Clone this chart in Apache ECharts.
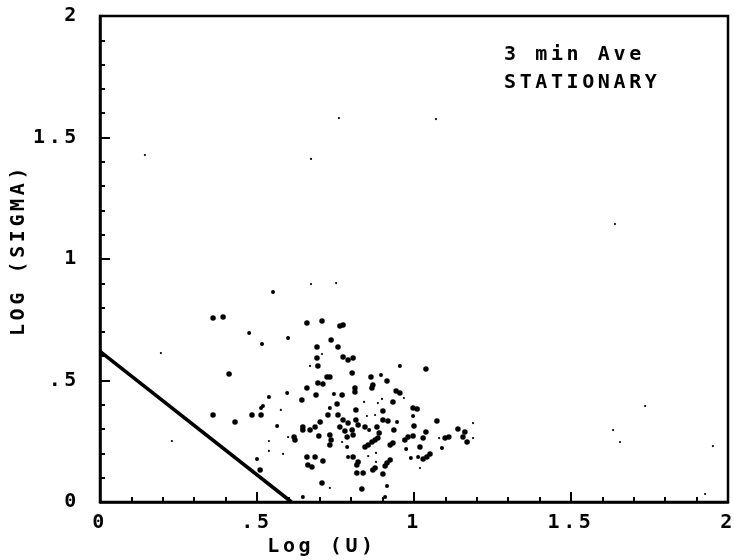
<!DOCTYPE html>
<html>
<head>
<meta charset="utf-8">
<script src="https://cdn.jsdelivr.net/npm/echarts@6/dist/echarts.min.js"></script>
<style>
  html, body { margin: 0; padding: 0; background: #fff; }
  #chart { width: 734px; height: 560px; }
</style>
</head>
<body>
<div id="chart"></div>
<script>
// Plotter-style wide character spacing for the monospace labels (canvas letterSpacing)
(function () {
  var P = window.CanvasRenderingContext2D && CanvasRenderingContext2D.prototype;
  if (!P || !('letterSpacing' in P)) return;
  var ft = P.fillText, mt = P.measureText;
  function apply(ctx) { ctx.letterSpacing = /DejaVu Sans Mono/.test(ctx.font) ? '3.6px' : '0px'; }
  P.fillText = function () { apply(this); return ft.apply(this, arguments); };
  P.measureText = function () { apply(this); return mt.apply(this, arguments); };
})();

// Axis ticks
var xTicks = [0, 0.5, 1, 1.5, 2];
var yTicks = [0, 0.5, 1, 1.5, 2];

// Boundary line: Log(SIGMA) vs Log(U)
var boundaryLine = [[0, 0.62], [0.61, 0]];

// Large dots [Log(U), Log(SIGMA)]
var bigDots = [
  [0.360,0.757],[0.392,0.761],[0.659,0.737],[0.707,0.745],[0.764,0.724],[0.774,0.728],
  [0.736,0.667],[0.691,0.638],[0.758,0.638],[0.691,0.593],[0.774,0.597],[0.790,0.584],
  [0.694,0.560],[0.411,0.527],[0.723,0.514],[0.732,0.514],[0.694,0.490],[0.710,0.486],
  [0.659,0.469],[0.688,0.440],[0.771,0.440],[0.643,0.420],[0.755,0.403],[0.360,0.358],
  [0.484,0.358],[0.513,0.358],[0.726,0.358],[0.758,0.358],[0.774,0.337],[0.790,0.325],
  [0.764,0.309],[0.787,0.267],[0.780,0.292],[0.430,0.329],[0.701,0.329],[0.685,0.309],
  [0.669,0.296],[0.646,0.309],[0.646,0.296],[0.618,0.267],[0.621,0.255],[0.697,0.272],
  [0.732,0.276],[0.736,0.255],[0.732,0.235],[0.659,0.185],[0.685,0.185],[0.710,0.169],
  [0.662,0.152],[0.675,0.144],[0.510,0.132],[0.707,0.078],
  [0.806,0.593],[1.038,0.547],[0.803,0.531],[0.863,0.514],[0.914,0.498],[0.869,0.481],
  [0.866,0.469],[0.812,0.469],[0.812,0.453],[0.943,0.457],[0.955,0.449],[0.933,0.412],
  [0.997,0.387],[1.010,0.383],[0.815,0.379],[0.901,0.374],[0.901,0.337],[0.917,0.333],
  [1.073,0.333],[0.815,0.337],[0.822,0.317],[0.803,0.296],[0.806,0.276],[0.844,0.309],
  [0.882,0.309],[0.889,0.284],[0.885,0.263],[0.936,0.296],[1.000,0.313],[0.981,0.267],
  [0.997,0.272],[0.971,0.255],[1.038,0.288],[1.029,0.263],[1.140,0.300],[1.162,0.288],
  [1.156,0.267],[1.169,0.247],[1.099,0.263],[1.111,0.267],[0.854,0.235],[0.844,0.226],
  [0.876,0.255],[0.866,0.247],[0.924,0.235],[0.933,0.243],[1.019,0.226],[0.806,0.185],
  [1.051,0.198],[1.041,0.185],[1.029,0.177],[0.924,0.173],[0.914,0.160],[0.908,0.148],
  [0.822,0.165],[0.818,0.152],[0.876,0.140],[0.869,0.132],[0.818,0.119],[0.838,0.119],
  [0.901,0.115],[0.834,0.053]
];

// Medium dots
var midDots = [
  [0.551,0.864],[0.475,0.695],[0.599,0.675],[0.516,0.650],[0.596,0.449],[0.745,0.444],
  [0.538,0.432],[0.519,0.395],[0.513,0.387],[0.732,0.387],[0.564,0.313],[0.787,0.226],
  [0.790,0.185],[0.500,0.177],[0.646,0.021],
  [0.955,0.560],[0.895,0.523],[0.997,0.354],[0.946,0.329],[0.857,0.296],[0.975,0.218],
  [1.089,0.222],[0.990,0.181],[1.013,0.185],[0.914,0.066],[0.908,0.021]
];

// Tiny dots
var tinyDots = [
  [0.761,1.580],[1.070,1.576],[0.143,1.428],[0.672,1.412],[1.640,1.144],[0.672,0.897],
  [0.752,0.901],[0.194,0.613],[0.229,0.251],[1.634,0.296],[1.656,0.247],[1.736,0.395],
  [1.952,0.230],[1.927,0.033],
  [0.707,0.609],[0.669,0.560],[0.576,0.379],[0.599,0.267],[0.538,0.251],[0.771,0.247],
  [0.538,0.210],[0.583,0.198],[0.732,0.058],
  [0.968,0.428],[0.898,0.424],[0.841,0.412],[0.885,0.407],[0.850,0.354],[0.876,0.358],
  [1.188,0.325],[1.188,0.263],[1.080,0.263],[0.879,0.202],[0.854,0.189],[0.879,0.165],
  [1.019,0.140]
];

var titleLines = ['3 min Ave', 'STATIONARY'];
var xName = 'Log (U)';
var yName = 'LOG (SIGMA)';

var FONT = 'DejaVu Sans Mono';
function fmt(v) {
  if (v === 0) return '0';
  var s = String(v);
  return s.charAt(0) === '0' ? s.slice(1) : s;
}

var tickStyle = { color: '#000000', width: 2, type: 'solid', opacity: 1 };

var chart = echarts.init(document.getElementById('chart'), null, { renderer: 'canvas' });
chart.setOption({
  backgroundColor: '#ffffff',
  animation: false,
  grid: {
    left: 100, right: 6, top: 16, bottom: 58, containLabel: false, outerBoundsMode: 'none',
    show: true, borderColor: '#000', borderWidth: 2.5
  },
  xAxis: {
    type: 'value', min: xTicks[0], max: xTicks[xTicks.length - 1], interval: 0.5,
    name: xName, nameLocation: 'middle', nameGap: 33, nameMoveOverlap: false,
    nameTextStyle: { fontFamily: FONT, fontSize: 20, fontWeight: 'bold', color: '#000', padding: [0, 184, 0, 0] },
    axisLine: { show: true, onZero: false, lineStyle: { color: '#000', width: 2.5 } },
    axisTick: { show: true, inside: true, length: 10, lineStyle: tickStyle },
    minorTick: { show: true, splitNumber: 5, length: 5, lineStyle: tickStyle },
    splitLine: { show: false },
    minorSplitLine: { show: false },
    axisLabel: { formatter: fmt, margin: 9, fontFamily: FONT, fontSize: 20, fontWeight: 'bold', color: '#000' }
  },
  yAxis: {
    type: 'value', min: yTicks[0], max: yTicks[yTicks.length - 1], interval: 0.5,
    name: yName, nameLocation: 'middle', nameGap: 69, nameMoveOverlap: false,
    nameTextStyle: { fontFamily: FONT, fontSize: 20, fontWeight: 'bold', color: '#000', padding: [0, 0, 0, 18] },
    axisLine: { show: true, onZero: false, lineStyle: { color: '#000', width: 2.5 } },
    axisTick: { show: true, inside: true, length: 10, lineStyle: tickStyle },
    minorTick: { show: true, splitNumber: 5, length: 5, lineStyle: tickStyle },
    splitLine: { show: false },
    minorSplitLine: { show: false },
    axisLabel: { formatter: fmt, margin: 20, fontFamily: FONT, fontSize: 20, fontWeight: 'bold', color: '#000' }
  },
  graphic: [
    { type: 'text', left: 504, top: 43, style: { text: titleLines[0], font: 'bold 20px "DejaVu Sans Mono"', fill: '#000' } },
    { type: 'text', left: 504, top: 71, style: { text: titleLines[1], font: 'bold 20px "DejaVu Sans Mono"', fill: '#000' } }
  ],
  series: [
    { type: 'line', data: boundaryLine, symbol: 'none', lineStyle: { color: '#000', width: 3.5 }, z: 3 },
    { type: 'scatter', data: bigDots, symbolSize: 5.5, itemStyle: { color: '#000', opacity: 1 } },
    { type: 'scatter', data: midDots, symbolSize: 4, itemStyle: { color: '#000', opacity: 1 } },
    { type: 'scatter', data: tinyDots, symbolSize: 2.2, itemStyle: { color: '#000', opacity: 1 } }
  ]
});
</script>
</body>
</html>
